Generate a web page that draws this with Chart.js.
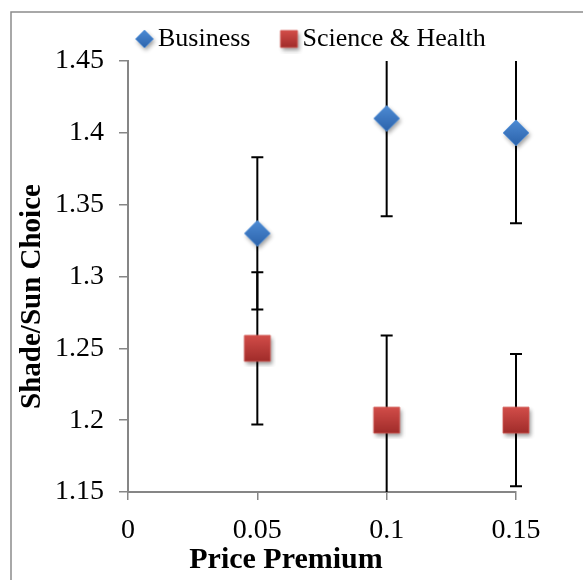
<!DOCTYPE html>
<html>
<head>
<meta charset="utf-8">
<script src="https://cdn.jsdelivr.net/npm/chart.js@4/dist/chart.umd.min.js"></script>
<style>
  html, body { margin: 0; padding: 0; background: #ffffff; }
  #wrap { width: 583px; height: 580px; position: relative; }
</style>
</head>
<body>
<div id="wrap"><canvas id="chart"></canvas></div>
<script>
// Price premium levels and mean shade/sun choice per group, with error half-widths
const premiums = [0.05, 0.1, 0.15];
const businessMeans = [1.33, 1.41, 1.40];
const businessErrors = [0.053, 0.068, 0.063];
const scienceMeans = [1.25, 1.20, 1.20];
const scienceErrors = [0.053, 0.059, 0.046];
const seriesNames = ['Business', 'Science & Health'];
const xTickLabels = ['0', '0.05', '0.1', '0.15'];
const yTickLabels = ['1.15', '1.2', '1.25', '1.3', '1.35', '1.4', '1.45'];

const SERIF = "'Liberation Serif', 'Times New Roman', serif";
const AXIS_GREY = '#868686';

// Small bitmap markers with a soft drop shadow and a vertical gradient
function makeMarker(shape, size, top, bottom, edge) {
  const pad = 6;
  const c = document.createElement('canvas');
  c.width = size + pad * 2;
  c.height = size + pad * 2;
  const g = c.getContext('2d');
  const cx = c.width / 2, cy = c.height / 2, h = size / 2;
  g.beginPath();
  if (shape === 'diamond') {
    g.moveTo(cx, cy - h); g.lineTo(cx + h, cy); g.lineTo(cx, cy + h); g.lineTo(cx - h, cy);
  } else {
    g.rect(cx - h, cy - h, size, size);
  }
  g.closePath();
  const grad = g.createLinearGradient(0, cy - h, 0, cy + h);
  grad.addColorStop(0, top);
  grad.addColorStop(1, bottom);
  g.save();
  g.shadowColor = 'rgba(0,0,0,0.38)';
  g.shadowBlur = 4;
  g.shadowOffsetX = 1.5;
  g.shadowOffsetY = 2.5;
  g.fillStyle = grad;
  g.fill();
  g.restore();
  g.lineWidth = 1;
  g.strokeStyle = edge;
  g.stroke();
  return c;
}

const pointMarkers = [
  makeMarker('diamond', 26, '#4d8bd4', '#2c63ab', 'rgba(90,150,220,0.8)'),
  makeMarker('square', 26, '#d24d49', '#a02c2a', 'rgba(210,90,86,0.8)')
];
const legendMarkers = [
  makeMarker('diamond', 18, '#4d8bd4', '#2c63ab', 'rgba(90,150,220,0.8)'),
  makeMarker('square', 17, '#d24d49', '#a02c2a', 'rgba(210,90,86,0.8)')
];

// Linear scale whose axis title can be slid along the axis
class ShiftedTitleScale extends Chart.LinearScale {
  drawTitle() {
    const shift = (this.options.title && this.options.title.shift) || 0;
    const keys = this.isHorizontal() ? ['left', 'right'] : ['top', 'bottom'];
    const saved = keys.map(k => this[k]);
    keys.forEach(k => { this[k] += shift; });
    super.drawTitle();
    keys.forEach((k, i) => { this[k] = saved[i]; });
  }
}
ShiftedTitleScale.id = 'shiftedLinear';
ShiftedTitleScale.defaults = Chart.LinearScale.defaults;
Chart.register(ShiftedTitleScale);

// Vertical error bars with caps, clipped to the plot's top and bottom
const errorBars = {
  id: 'errorBars',
  beforeDatasetsDraw(chart) {
    const { ctx, chartArea, scales, width } = chart;
    const errs = [businessErrors, scienceErrors];
    ctx.save();
    ctx.beginPath();
    ctx.rect(0, chartArea.top, width, chartArea.bottom - chartArea.top);
    ctx.clip();
    ctx.strokeStyle = '#000000';
    ctx.lineWidth = 2;
    chart.data.datasets.forEach((ds, di) => {
      ds.data.forEach((pt, i) => {
        const e = errs[di][i];
        const px = scales.x.getPixelForValue(pt.x);
        const yTop = scales.y.getPixelForValue(pt.y + e);
        const yBot = scales.y.getPixelForValue(pt.y - e);
        ctx.beginPath();
        ctx.moveTo(px, yTop); ctx.lineTo(px, yBot);
        ctx.moveTo(px - 6, yTop); ctx.lineTo(px + 6, yTop);
        ctx.moveTo(px - 6, yBot); ctx.lineTo(px + 6, yBot);
        ctx.stroke();
      });
    });
    ctx.restore();
  }
};

// White page with the chart frame along the left and top
const frame = {
  id: 'frame',
  beforeDraw(chart) {
    const { ctx, width, height } = chart;
    ctx.save();
    ctx.fillStyle = '#ffffff';
    ctx.fillRect(0, 0, width, height);
    ctx.strokeStyle = '#8c8c8c';
    ctx.lineWidth = 1.5;
    ctx.beginPath();
    ctx.moveTo(11, height + 2);
    ctx.lineTo(11, 12);
    ctx.lineTo(width + 2, 12);
    ctx.stroke();
    ctx.restore();
  }
};

// Place the legend row above the plot
const legendPlacement = {
  id: 'legendPlacement',
  afterLayout(chart) {
    const lg = chart.legend;
    if (!lg) return;
    const dx = 106 - lg.left;
    lg.left += dx;
    lg.right += dx;
    lg.top = -12;
  }
};

const toPoints = (ys) => premiums.map((x, i) => ({ x, y: ys[i] }));

new Chart(document.getElementById('chart'), {
  type: 'scatter',
  data: {
    datasets: [
      { label: seriesNames[0], data: toPoints(businessMeans), pointStyle: pointMarkers[0], radius: 13, hoverRadius: 13, clip: false },
      { label: seriesNames[1], data: toPoints(scienceMeans), pointStyle: pointMarkers[1], radius: 13, hoverRadius: 13, clip: false }
    ]
  },
  options: {
    responsive: true,
    maintainAspectRatio: false,
    animation: false,
    layout: { padding: { top: 0, left: 0, right: 67, bottom: 0 } },
    plugins: {
      tooltip: { enabled: false },
      legend: {
        position: 'top',
        align: 'start',
        maxHeight: 61,
        labels: {
          usePointStyle: true,
          pointStyleWidth: 1,
          padding: 38,
          color: '#000000',
          font: { family: SERIF, size: 26 },
          generateLabels: (chart) => chart.data.datasets.map((ds, i) => ({
            text: ds.label,
            pointStyle: legendMarkers[i],
            datasetIndex: i,
            hidden: false,
            lineWidth: 0,
            fillStyle: 'transparent',
            strokeStyle: 'transparent',
            fontColor: '#000000'
          }))
        }
      }
    },
    scales: {
      x: {
        type: 'shiftedLinear',
        position: 'bottom',
        min: 0,
        max: 0.15,
        afterFit: (s) => { s.height = 88; },
        ticks: {
          stepSize: 0.05,
          padding: 17,
          color: '#000000',
          font: { family: SERIF, size: 28, lineHeight: 1 },
          callback: (v, i) => xTickLabels[i],
          maxRotation: 0
        },
        grid: { display: true, drawOnChartArea: false, drawTicks: true, tickLength: 8, color: AXIS_GREY, lineWidth: 1.5 },
        border: { display: true, color: AXIS_GREY, width: 2 },
        title: {
          display: true,
          text: 'Price Premium',
          shift: -36,
          color: '#000000',
          font: { family: SERIF, size: 30, weight: 'bold', lineHeight: 1 },
          padding: { top: 0, bottom: 5 }
        }
      },
      y: {
        type: 'shiftedLinear',
        position: 'left',
        min: 1.15,
        max: 1.45,
        afterFit: (s) => { s.width = 128; },
        ticks: {
          stepSize: 0.05,
          padding: 15,
          color: '#000000',
          font: { family: SERIF, size: 28, lineHeight: 1 },
          callback: (v, i) => yTickLabels[i]
        },
        grid: { display: true, drawOnChartArea: false, drawTicks: true, tickLength: 9, color: AXIS_GREY, lineWidth: 1.5 },
        border: { display: true, color: AXIS_GREY, width: 2 },
        title: {
          display: true,
          text: 'Shade/Sun Choice',
          shift: 20,
          color: '#000000',
          font: { family: SERIF, size: 29, weight: 'bold', lineHeight: 1 },
          padding: { top: 18, bottom: 0 }
        }
      }
    }
  },
  plugins: [frame, errorBars, legendPlacement]
});
</script>
</body>
</html>
